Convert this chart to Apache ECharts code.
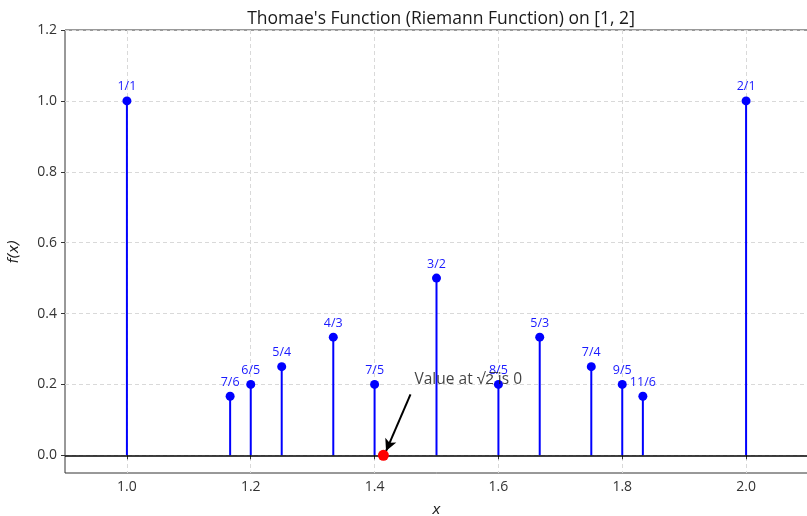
<!DOCTYPE html>
<html>
<head>
<meta charset="utf-8">
<script src="https://cdn.jsdelivr.net/npm/echarts@6/dist/echarts.min.js"></script>
<style>
  html, body { margin: 0; padding: 0; background: #fff; }
  #chart { width: 807px; height: 516px; }
</style>
</head>
<body>
<div id="chart"></div>
<script>
// rationals p/q in [1,2] with q <= 6, value 1/q
var fracX = [1.0, 1.1667, 1.2, 1.25, 1.3333, 1.4, 1.5, 1.6, 1.6667, 1.75, 1.8, 1.8333, 2.0];
var fracY = [1.0, 0.1667, 0.2, 0.25, 0.3333, 0.2, 0.5, 0.2, 0.3333, 0.25, 0.2, 0.1667, 1.0];
var fracLabels = ['1/1', '7/6', '6/5', '5/4', '4/3', '7/5', '3/2', '8/5', '5/3', '7/4', '9/5', '11/6', '2/1'];
var xTicks = [1.0, 1.2, 1.4, 1.6, 1.8, 2.0];
var yTicks = [0.0, 0.2, 0.4, 0.6, 0.8, 1.0, 1.2];
// sqrt(2) point and its note
var sqrt2 = [1.41421, 0];
var noteText = 'Value at √2̅ is 0';
var notePos = [1.4645, 0.2147];
var arrowFrom = [1.458, 0.172];
var arrowTo = [1.4185, 0.012];

var font = '"Open Sans", Roboto, sans-serif';
var chart = echarts.init(document.getElementById('chart'));

var stemData = [];
var pointData = [];
for (var i = 0; i < fracX.length; i++) {
  stemData.push([fracX[i], fracY[i]]);
  pointData.push({ value: [fracX[i], fracY[i]], name: fracLabels[i] });
}

chart.setOption({
  animation: false,
  title: {
    text: "Thomae's Function (Riemann Function) on [1, 2]",
    left: 436, top: 5, textAlign: 'center',
    textStyle: { fontFamily: font, fontSize: 17.5, fontWeight: 'normal', color: '#1a1a1a' }
  },
  grid: {
    left: 65, right: -1, top: 30, bottom: 43,
    outerBoundsMode: 'none', containLabel: false,
    show: true, borderColor: '#333', borderWidth: 1, backgroundColor: 'transparent'
  },
  xAxis: {
    type: 'value', min: 0.9, max: 2.1,
    name: 'x', nameLocation: 'middle', nameGap: 30,
    nameTextStyle: { fontFamily: 'DejaVu Sans', fontStyle: 'italic', fontSize: 14, color: '#222' },
    axisLine: { show: false },
    axisTick: { show: true, length: 4, customValues: xTicks, lineStyle: { color: '#333' } },
    axisLabel: {
      customValues: xTicks, margin: 7,
      fontFamily: font, fontSize: 14, color: '#333',
      formatter: function (v) { return v.toFixed(1); }
    },
    splitLine: { show: true, lineStyle: { color: '#d9d9d9', type: [4, 3], width: 1 } }
  },
  yAxis: {
    type: 'value', min: -0.05, max: 1.2,
    name: 'f(x)', nameLocation: 'middle', nameGap: 44,
    nameTextStyle: { fontFamily: 'DejaVu Sans', fontStyle: 'italic', fontSize: 14, color: '#222' },
    axisLine: { show: false },
    axisTick: { show: true, length: 4, customValues: yTicks, lineStyle: { color: '#333' } },
    axisLabel: {
      customValues: yTicks, margin: 8,
      fontFamily: font, fontSize: 14, color: '#333',
      formatter: function (v) { return v.toFixed(1); }
    },
    splitLine: { show: true, lineStyle: { color: '#d9d9d9', type: [4, 3], width: 1 } }
  },
  series: [
    {
      // stems
      type: 'custom',
      data: stemData,
      z: 3,
      renderItem: function (params, api) {
        var top = api.coord([api.value(0), api.value(1)]);
        var base = api.coord([api.value(0), 0]);
        return {
          type: 'line',
          shape: { x1: base[0], y1: base[1], x2: top[0], y2: top[1] },
          style: { stroke: '#0000ff', lineWidth: 2 }
        };
      },
      markLine: {
        silent: true, symbol: ['none', 'none'],
        lineStyle: { color: '#000', width: 1.6, type: 'solid' },
        label: { show: false },
        data: [{ yAxis: 0 }]
      }
    },
    {
      type: 'scatter',
      data: pointData,
      symbol: 'circle', symbolSize: 9, z: 4,
      itemStyle: { color: '#0000ff', opacity: 1 },
      label: {
        show: true, position: 'top', distance: 3,
        formatter: '{b}',
        fontFamily: font, fontSize: 12.5, color: '#1a1aff'
      }
    },
    {
      type: 'scatter',
      data: [sqrt2],
      symbol: 'circle', symbolSize: 11, z: 6,
      itemStyle: { color: '#ff0000', opacity: 1 },
      markLine: {
        silent: true, symbol: ['none', 'arrow'], symbolSize: [9, 12],
        lineStyle: { color: '#000', width: 2, type: 'solid' },
        label: { show: false },
        data: [[{ coord: arrowFrom }, { coord: arrowTo }]]
      }
    },
    {
      type: 'scatter',
      data: [notePos],
      symbolSize: 0, z: 7,
      label: {
        show: true, position: 'right', distance: 0,
        formatter: noteText,
        fontFamily: font, fontSize: 15.5, color: '#111'
      }
    }
  ]
});
</script>
</body>
</html>
